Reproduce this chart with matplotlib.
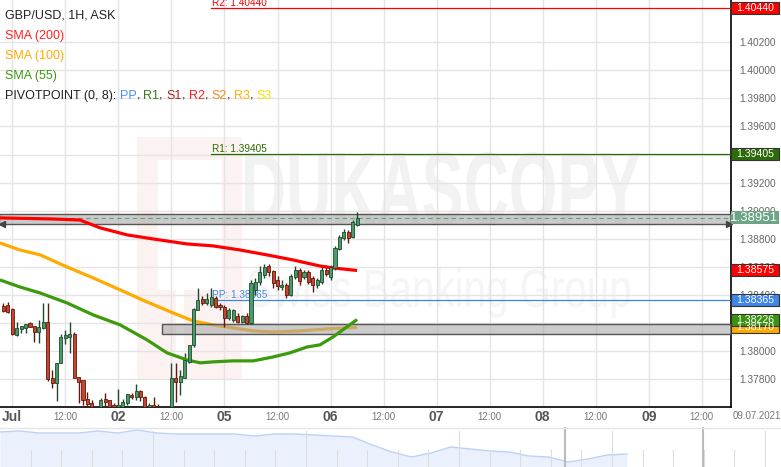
import numpy as np
import matplotlib
matplotlib.use('Agg')
import matplotlib.pyplot as plt
from matplotlib.patches import Rectangle, PathPatch
from matplotlib.textpath import TextPath
from matplotlib.font_manager import FontProperties
from matplotlib.transforms import blended_transform_factory, Affine2D, IdentityTransform
from matplotlib.ticker import FormatStrFormatter

plt.rcParams['font.family'] = ['Liberation Sans', 'DejaVu Sans']

## hourly candles, first candle = 30.06 22:00 (hour 0 = 01.07 00:00, weekend skipped)
first_hour = -2
opens = [1.38323, 1.38330, 1.38302, 1.38117, 1.38160, 1.38167, 1.38202, 1.38181, 1.38138, 1.38167,
         1.38209, 1.37811, 1.37776, 1.37918, 1.38096, 1.38103, 1.38124, 1.37818, 1.37797, 1.37662,
         1.37633, 1.37584, 1.37584, 1.37662, 1.37655, 1.37619, 1.37584, 1.37605, 1.37633, 1.37690,
         1.37676, 1.37719, 1.37676, 1.37584, 1.37619, 1.37612, 1.37569, 1.37584, 1.37605, 1.37811,
         1.37783, 1.37811, 1.37925, 1.38046, 1.38295, 1.38373, 1.38344, 1.38330, 1.38380, 1.38330,
         1.38316, 1.38238, 1.38223, 1.38252, 1.38209, 1.38252, 1.38202, 1.38437, 1.38494, 1.38543,
         1.38607, 1.38572, 1.38508, 1.38458, 1.38472, 1.38401, 1.38529, 1.38579, 1.38529, 1.38565,
         1.38522, 1.38472, 1.38494, 1.38579, 1.38529, 1.38593, 1.38728, 1.38806, 1.38849, 1.38814,
         1.38899]
highs = [1.38344, 1.38352, 1.38309, 1.38209, 1.38181, 1.38195, 1.38209, 1.38181, 1.38223, 1.38344,
         1.38344, 1.37868, 1.37918, 1.38124, 1.38152, 1.38209, 1.38138, 1.37818, 1.37797, 1.37712,
         1.37655, 1.37600, 1.37669, 1.37704, 1.37655, 1.37633, 1.37733, 1.37662, 1.37697, 1.37704,
         1.37768, 1.37726, 1.37683, 1.37633, 1.37676, 1.37626, 1.37605, 1.37612, 1.37918, 1.37918,
         1.37868, 1.37989, 1.38046, 1.38309, 1.38451, 1.38394, 1.38415, 1.38451, 1.38394, 1.38344,
         1.38330, 1.38309, 1.38302, 1.38273, 1.38259, 1.38273, 1.38508, 1.38522, 1.38607, 1.38621,
         1.38621, 1.38579, 1.38536, 1.38508, 1.38487, 1.38550, 1.38607, 1.38593, 1.38579, 1.38579,
         1.38536, 1.38522, 1.38607, 1.38614, 1.38614, 1.38749, 1.38828, 1.38870, 1.38863, 1.38934,
         1.38991]
lows = [1.38280, 1.38273, 1.38117, 1.38110, 1.38131, 1.38131, 1.38174, 1.38067, 1.38060, 1.38160,
        1.37790, 1.37740, 1.37648, 1.37918, 1.38053, 1.37989, 1.37811, 1.37633, 1.37619, 1.37605,
        1.37569, 1.37540, 1.37569, 1.37584, 1.37569, 1.37569, 1.37569, 1.37584, 1.37619, 1.37662,
        1.37655, 1.37648, 1.37569, 1.37569, 1.37569, 1.37569, 1.37540, 1.37555, 1.37584, 1.37640,
        1.37690, 1.37811, 1.37918, 1.38031, 1.38295, 1.38330, 1.38330, 1.38316, 1.38309, 1.38295,
        1.38174, 1.38223, 1.38209, 1.38202, 1.38202, 1.38195, 1.38195, 1.38401, 1.38472, 1.38522,
        1.38536, 1.38451, 1.38437, 1.38437, 1.38380, 1.38394, 1.38515, 1.38472, 1.38515, 1.38479,
        1.38422, 1.38451, 1.38479, 1.38536, 1.38508, 1.38579, 1.38721, 1.38792, 1.38771, 1.38806,
        1.38892]
closes = [1.38287, 1.38280, 1.38124, 1.38167, 1.38181, 1.38195, 1.38174, 1.38138, 1.38174, 1.38209,
          1.37804, 1.37776, 1.37918, 1.38103, 1.38117, 1.38124, 1.37811, 1.37783, 1.37655, 1.37626,
          1.37584, 1.37590, 1.37655, 1.37640, 1.37584, 1.37584, 1.37619, 1.37640, 1.37697, 1.37676,
          1.37719, 1.37676, 1.37584, 1.37619, 1.37584, 1.37584, 1.37598, 1.37605, 1.37811, 1.37783,
          1.37825, 1.37939, 1.38046, 1.38302, 1.38366, 1.38344, 1.38373, 1.38387, 1.38316, 1.38316,
          1.38238, 1.38295, 1.38295, 1.38209, 1.38252, 1.38202, 1.38487, 1.38494, 1.38565, 1.38600,
          1.38565, 1.38487, 1.38465, 1.38472, 1.38401, 1.38536, 1.38579, 1.38501, 1.38565, 1.38494,
          1.38472, 1.38508, 1.38579, 1.38550, 1.38600, 1.38735, 1.38814, 1.38849, 1.38806, 1.38920,
          1.38951]

## moving averages (read at a few hours)
sma200_h = [-2.8, 8.5, 15.3, 19.9, 26.0, 33.4, 39.5, 45.4, 51.5, 57.6, 63.5, 69.6, 72.6, 78]
sma200 = [1.38949, 1.38942, 1.38934, 1.38878, 1.38828, 1.38792, 1.38764, 1.38750, 1.38721, 1.38686,
          1.38650, 1.38607, 1.38593, 1.38575]
sma100_h = [-2.8, 1.7, 6.3, 12.4, 18.3, 24.4, 30.5, 36.4, 40.9, 45.4, 49.9, 54.5, 59.0, 65.1, 71.2, 78]
sma100 = [1.38771, 1.38721, 1.38686, 1.38600, 1.38522, 1.38437, 1.38351, 1.38273, 1.38216, 1.38188,
          1.38167, 1.38145, 1.38138, 1.38145, 1.38160, 1.38170]
sma55_h = [-2.8, 1.7, 6.3, 12.4, 18.3, 24.4, 30.5, 35.0, 39.5, 42.5, 45.4, 49.9, 54.5, 59.0, 62.8,
           66.7, 69.6, 72.6, 75.7, 78]
sma55 = [1.38508, 1.38458, 1.38415, 1.38344, 1.38259, 1.38188, 1.38081, 1.37989, 1.37939, 1.37918,
         1.37925, 1.37932, 1.37932, 1.37960, 1.37989, 1.38031, 1.38046, 1.38103, 1.38174, 1.38226]

## pivot points
pivot_names = ['R2', 'R1', 'PP']
pivot_vals = [1.40440, 1.39405, 1.38365]
pivot_colors = ['#ff0000', '#2e6b00', '#3a86e8']
pivot_start = 45

## grey zones (low, high, start hour)
zone_lo = [1.38906, 1.38124]
zone_hi = [1.38977, 1.38195]
zone_start = [-3, 33.9]

## right price labels
tag_vals = [1.40440, 1.39405, 1.38575, 1.38365, 1.38170, 1.38226]
tag_colors = ['#ff0000', '#2d6a0a', '#ff0000', '#3f86e6', '#ffaa00', '#3a9410']
last_price = 1.38951

## x axis
tick_hours = list(range(0, 157, 12))
day_names = ['Jul', '02', '05', '06', '07', '08', '09']

## navigator mini series (relative level)
nav_vals = [35, 36, 34, 34, 34, 36, 34, 37, 34, 33, 33, 33, 33, 31, 33, 33, 32, 31, 30, 22,
            15, 10, 14, 20, 18, 16, 15, 11, 10, 5, 8, 12, 13]

W, H = 781, 467
fig = plt.figure(figsize=(W / 100, H / 100), dpi=100)
ax = fig.add_axes([0, 60 / H, 731 / W, 407 / H])
ax.set_xlim(-2.783, 162.6)
ax.set_ylim(1.37604, 1.40499)

ax.set_axisbelow(True)
ax.grid(color='#e4e4e4', lw=1)
for s in ['left', 'top']:
    ax.spines[s].set_visible(False)
for s in ['right', 'bottom']:
    ax.spines[s].set_color('black')
    ax.spines[s].set_linewidth(1.2)

## watermark
def wm_text(txt, x0, y0, x1, y1, color, weight):
    tp = TextPath((0, 0), txt, size=100, prop=FontProperties(family='Liberation Sans', weight=weight))
    bb = tp.get_extents()
    tr = Affine2D().translate(-bb.x0, -bb.y0).scale((x1 - x0) / bb.width, (y1 - y0) / bb.height).translate(x0, H - y1)
    ax.add_patch(PathPatch(tr.transform_path(tp), fc=color, ec='none', transform=IdentityTransform(),
                           zorder=0.1, clip_on=False))

ax.add_patch(Rectangle((137, H - 380), 105, 243, fc='#fdf2f2', ec='none', transform=IdentityTransform(),
                       zorder=0.1, clip_on=False))
ax.add_patch(Rectangle((158, H - 290), 64, 130, fc='#ffffff', ec='none', transform=IdentityTransform(),
                       zorder=0.1, clip_on=False))
ax.add_patch(Rectangle((176, H - 360), 8, 70, fc='#ffffff', ec='none', transform=IdentityTransform(),
                       zorder=0.1, clip_on=False))
wm_text('DUKASCOPY', 245, 152, 640, 225, '#f2f2f2', 'bold')
wm_text('Swiss Banking Group', 248, 268, 630, 318, '#f5f5f5', 'normal')

## candles
xs = np.arange(len(opens)) + first_hour
o = np.array(opens); c = np.array(closes)
up = c >= o
body_col = np.where(up, '#4b9a6a', '#c9432e')
edge_col = np.where(up, '#1e4a2c', '#5e1a0e')
ax.vlines(xs, lows, highs, colors=edge_col, lw=1, zorder=4)
ax.bar(xs, np.maximum(np.abs(c - o), 0.00002), bottom=np.minimum(o, c), width=0.7,
       color=body_col, edgecolor=edge_col, lw=0.6, zorder=5)

## moving averages
ax.plot(sma100_h, sma100, color='#ffaa00', lw=2.3, zorder=2, solid_capstyle='butt')
ax.plot(sma200_h, sma200, color='#ff0000', lw=2.3, zorder=4, solid_capstyle='butt')
ax.plot(sma55_h, sma55, color='#3c9a0c', lw=2.3, zorder=4, solid_capstyle='butt')

## zones
for lo, hi, st in zip(zone_lo, zone_hi, zone_start):
    ax.add_patch(Rectangle((st, lo), 170 - st, hi - lo, fc='#a9a9a9', alpha=0.6, ec='none', zorder=3))
    ax.add_patch(Rectangle((st, lo), 170 - st, hi - lo, fc='none', ec='#555555', lw=1, zorder=3))
ax.axhline(last_price, color='#5da276', lw=0.8, ls=(0, (4, 3)), zorder=3.5)
ax.plot([-2.3], [zone_lo[0] - 0.00002], marker='<', ms=4, color='#444444', zorder=6, clip_on=False)
ax.plot([162.1], [zone_lo[0] - 0.00002], marker='>', ms=4, color='#444444', zorder=6, clip_on=False)

## pivots
for name, v, col in zip(pivot_names, pivot_vals, pivot_colors):
    ax.plot([pivot_start, 170], [v, v], color=col, lw=0.9, zorder=3)
    ax.text(pivot_start + 0.2, v + 0.00002, f'{name}: {v:.5f}', color=col, fontsize=7.2,
            va='bottom', ha='left', zorder=3)

## axes ticks
ax.yaxis.tick_right()
ax.set_yticks(np.arange(1.378, 1.4021, 0.002))
ax.yaxis.set_major_formatter(FormatStrFormatter('%.5f'))
ax.tick_params(axis='y', length=0, pad=6, labelsize=7.3, labelcolor='#666666')

labels = []
for i, h in enumerate(tick_hours):
    labels.append(day_names[i // 2] if i % 2 == 0 else '12:00')
ax.set_xticks(tick_hours, labels)
ax.tick_params(axis='x', length=0, pad=7)
for i, t in enumerate(ax.get_xticklabels()):
    t.set_va('center')
    if i % 2 == 0:
        t.set_fontsize(10); t.set_fontweight('bold'); t.set_color('#555555')
    else:
        t.set_fontsize(7); t.set_color('#777777')
fig.text(757 / W, 1 - 416 / H, '09.07.2021', fontsize=7, color='#777777', ha='center', va='center')

## right side price tags
tb = blended_transform_factory(ax.transAxes, ax.transData)
bw = 48 / 731
hh = 6 / 14060
for v, col in zip(tag_vals, tag_colors):
    ax.add_patch(Rectangle((1.0, v - hh), bw, 2 * hh, fc=col, ec='#333333', lw=0.8, transform=tb,
                           clip_on=False, zorder=7))
    ax.text(1.0 + bw / 2, v, f'{v:.5f}', color='white', fontsize=7.6, ha='center', va='center',
            transform=tb, clip_on=False, zorder=8)
ax.add_patch(Rectangle((1.0, last_price - 6.5 / 14060), bw, 13 / 14060, fc='#6ba585', ec='none',
                       transform=tb, clip_on=False, zorder=7))
ax.text(1.0 + bw / 2 - 0.001, last_price, f'{last_price:.5f}', color='white', fontsize=9.5, ha='center',
        va='center', transform=tb, clip_on=False, zorder=8)

## legend text, top left
fig.text(5 / W, 1 - 16 / H, 'GBP/USD, 1H, ASK', fontsize=9, color='#222222', va='center')
fig.text(5 / W, 1 - 36 / H, 'SMA (200)', fontsize=9, color='#ff2020', va='center')
fig.text(5 / W, 1 - 56 / H, 'SMA (100)', fontsize=9, color='#ffaa00', va='center')
fig.text(5 / W, 1 - 76 / H, 'SMA (55)', fontsize=9, color='#3c9a0c', va='center')

piv_parts = [('PIVOTPOINT (0, 8):', '#222222'), ('PP', '#4a8ef0'), ('R1', '#3b7a1a'), ('S1', '#b02020'),
             ('R2', '#ff1a1a'), ('S2', '#f58a20'), ('R3', '#ffb000'), ('S3', '#f5e000')]
r = fig.canvas.get_renderer()
px = 5
for k, (txt, col) in enumerate(piv_parts):
    t = fig.text(px / W, 1 - 96 / H, txt, fontsize=9, color=col, va='center')
    px += t.get_window_extent(r).width
    if 0 < k < len(piv_parts) - 1:
        t2 = fig.text(px / W, 1 - 96 / H, ',', fontsize=9, color='#222222', va='center')
        px += t2.get_window_extent(r).width
    px += 3.5

## navigator
nav = fig.add_axes([0, 0, 1, 40 / H])
nav.set_xlim(0, W / 20)
nav.set_ylim(0, 40)
nav.axis('off')
nx = np.arange(len(nav_vals)) * (627 / 20) / (len(nav_vals) - 1)
nav.fill_between(nx, 0, nav_vals, color='#eaf1fd', lw=0)
nav.plot(nx, nav_vals, color='#bcd2f5', lw=1)
for k in range(1, 26):
    top = 36 if k % 5 == 0 else 17
    nav.plot([k * 1.53, k * 1.53], [0, top], color='#dcdcdc', lw=0.8)
nav.plot([565 / 20, 565 / 20], [0, 40], color='#bbbbbb', lw=1.5)
nav.plot([703 / 20, 703 / 20], [0, 40], color='#bbbbbb', lw=1.5)
nav.plot([0, W / 20], [39.5, 39.5], color='#e4e4e4', lw=1)

fig.savefig('out.png', dpi=100)
